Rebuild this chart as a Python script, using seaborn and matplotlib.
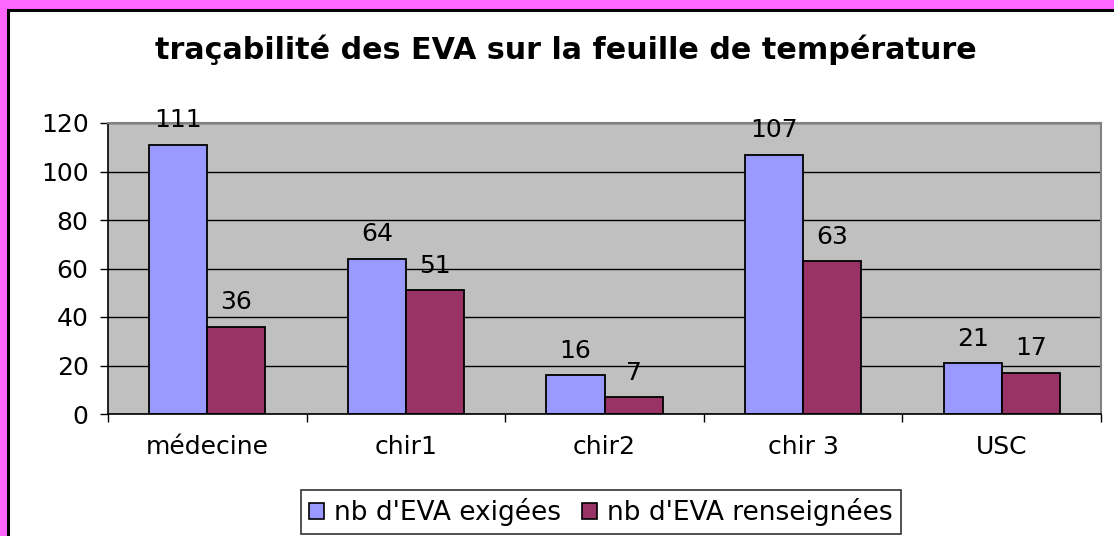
import pandas as pd
import seaborn as sns
import matplotlib.pyplot as plt
from matplotlib.patches import Rectangle
from matplotlib.ticker import FixedLocator

# === data ===
services = ["médecine", "chir1", "chir2", "chir 3", "USC"]
exigees = [111, 64, 16, 107, 21]
renseignees = [36, 51, 7, 63, 17]
series = ["nb d'EVA exigées", "nb d'EVA renseignées"]
colors = ["#9999FF", "#993366"]

df = pd.DataFrame({
    "service": services * 2,
    "serie": [series[0]] * len(services) + [series[1]] * len(services),
    "valeur": exigees + renseignees,
})

sns.set_theme(style="white")
plt.rcParams["font.family"] = ["DejaVu Sans"]

fig = plt.figure(figsize=(11.14, 5.36), dpi=100)
fig.patch.set_facecolor("#FF66FF")

# white chart area with black border (cropped on right / bottom)
fig.patches.append(Rectangle((8 / 1114, -0.1), 1.2, 1 - 10 / 536 + 0.1,
                             transform=fig.transFigure, facecolor="white",
                             edgecolor="black", linewidth=2.2, zorder=-5))

ax = fig.add_axes([108 / 1114, 1 - 414 / 536, (1101 - 108) / 1114, (414 - 123) / 536])
ax.set_zorder(2)
ax.set_facecolor("#C0C0C0")

sns.barplot(data=df, x="service", y="valeur", hue="serie", palette=colors,
            width=0.585, gap=0, edgecolor="black", linewidth=1.3,
            saturation=1, ax=ax, legend=False)

for cont in ax.containers:
    ax.bar_label(cont, padding=9, fontsize=18, color="black")

ax.set_ylim(0, 120)
ax.set_xlim(-0.5, 4.5)
ax.set_yticks(range(0, 121, 20))
ax.yaxis.grid(True, color="black", linewidth=1)
ax.set_axisbelow(True)
ax.set_xlabel("")
ax.set_ylabel("")

ax.tick_params(axis="y", left=True, length=6, width=1, color="black",
               labelsize=18, pad=8, labelcolor="black")
ax.tick_params(axis="x", which="major", length=0, labelsize=18, pad=15,
               labelcolor="black")
ax.xaxis.set_minor_locator(FixedLocator([-0.5, 0.5, 1.5, 2.5, 3.5, 4.5]))
ax.tick_params(axis="x", which="minor", bottom=True, length=6, width=1,
               color="black")

for s in ["left", "bottom"]:
    ax.spines[s].set_color("black")
    ax.spines[s].set_linewidth(1.2)
for s in ["top", "right"]:
    ax.spines[s].set_color("#808080")
    ax.spines[s].set_linewidth(1.5)

fig.text(566 / 1114, 1 - 50 / 536, "traçabilité des EVA sur la feuille de température",
         ha="center", va="center", fontsize=21.7, fontweight="bold", color="black")

handles = [Rectangle((0, 0), 1, 1, facecolor=c, edgecolor="black", linewidth=1.2)
           for c in colors]
leg = fig.legend(handles, series, loc="center", bbox_to_anchor=(601 / 1114, 1 - 512 / 536),
                 ncol=2, fontsize=19, labelcolor="black", frameon=True, fancybox=False,
                 handlelength=0.55, handleheight=0.55, handletextpad=0.4,
                 columnspacing=0.8, borderpad=0.3, borderaxespad=0)
leg.get_frame().set_edgecolor("black")
leg.get_frame().set_linewidth(1.2)

fig.savefig("out.png", dpi=100, facecolor=fig.get_facecolor())
